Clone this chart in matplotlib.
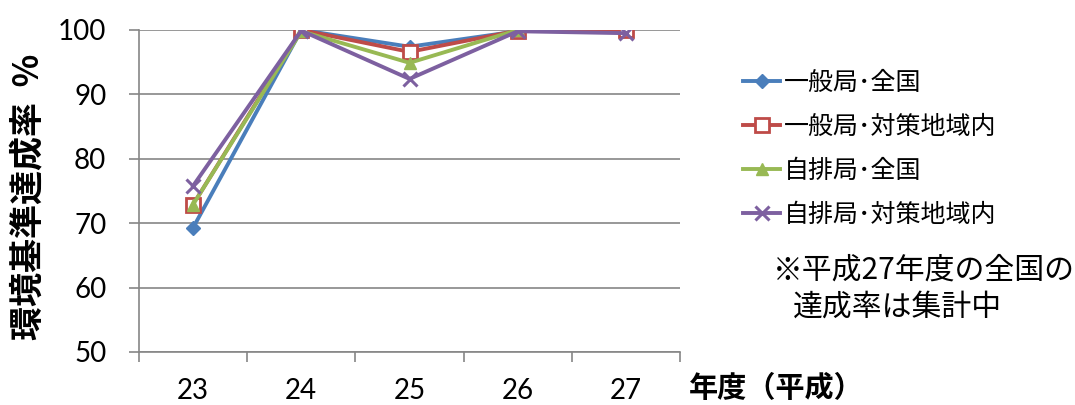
import matplotlib
matplotlib.use("Agg")
import matplotlib.pyplot as plt
import numpy as np

plt.rcParams['font.family'] = ['Noto Sans CJK JP', 'DejaVu Sans']

years = ["23", "24", "25", "26", "27"]
ippan_zenkoku = [69.3, 100.0, 97.4, 99.8, np.nan]
ippan_taisaku = [72.9, 100.0, 96.6, 99.9, 100.0]
jihai_zenkoku = [72.9, 99.8, 94.9, 100.0, np.nan]
jihai_taisaku = [75.8, 99.9, 92.4, 99.8, 99.5]
series_names = ["一般局･全国", "一般局･対策地域内", "自排局･全国", "自排局･対策地域内"]
yticks = [50, 60, 70, 80, 90, 100]

fig = plt.figure(figsize=(10.75, 4.05), dpi=100)
ax = fig.add_axes([0.1293, 0.1309, 0.5033, 0.7951])

x = np.arange(len(years))
ax.plot(x, ippan_zenkoku, color='#4a7ebb', lw=2.8, marker='D', ms=7, label=series_names[0], zorder=3)
ax.plot(x, ippan_taisaku, color='#be4b48', lw=2.8, marker='s', ms=10, mfc='white', mec='#be4b48', mew=2, label=series_names[1], zorder=4)
ax.plot(x, jihai_zenkoku, color='#98b954', lw=2.8, marker='^', ms=9, label=series_names[2], zorder=5)
ax.plot(x, jihai_taisaku, color='#7d60a0', lw=2.8, marker='x', ms=10, mew=2.2, label=series_names[3], zorder=6)

numfont = ['Lato', 'DejaVu Sans']
ax.set_xlim(-0.5, len(years) - 0.5)
ax.set_ylim(50, 100)
ax.set_yticks(yticks)
ax.set_yticklabels([str(v) for v in yticks], fontsize=20, family=numfont)
ax.set_xticks(x)
ax.set_xticklabels(years, fontsize=20, family=numfont)
ax.set_xticks(np.arange(len(years) + 1) - 0.5, minor=True)
ax.tick_params(axis='x', which='major', length=0, pad=19)
ax.tick_params(axis='x', which='minor', length=7, color='#868686', width=1.2)
ax.tick_params(axis='y', length=7, color='#868686', width=1.2, pad=16.5)
ax.grid(axis='y', color='#868686', lw=1.2)
ax.set_axisbelow(True)
for s in ['top', 'right']:
    ax.spines[s].set_visible(False)
for s in ['left', 'bottom']:
    ax.spines[s].set_color('#868686')
    ax.spines[s].set_linewidth(1.2)

fig.text(0.0265, 0.515, "環境基準達成率  %", rotation=90, fontsize=24.5, fontweight='bold', ha='center', va='center')
fig.text(0.641, 0.042, "年度（平成）", fontsize=21, fontweight='bold', ha='left', va='center')

leg = fig.legend(loc='upper left', bbox_to_anchor=(0.691, 0.828), frameon=False, fontsize=18,
                 handlelength=1.5, handletextpad=0.15, labelspacing=0.72, borderaxespad=0,
                 borderpad=0)

fig.text(0.719, 0.333, "※平成27年度の全国の", fontsize=21.5, ha='left', va='center')
fig.text(0.738, 0.242, "達成率は集計中", fontsize=21.5, ha='left', va='center')

fig.savefig("out.png", dpi=100)
